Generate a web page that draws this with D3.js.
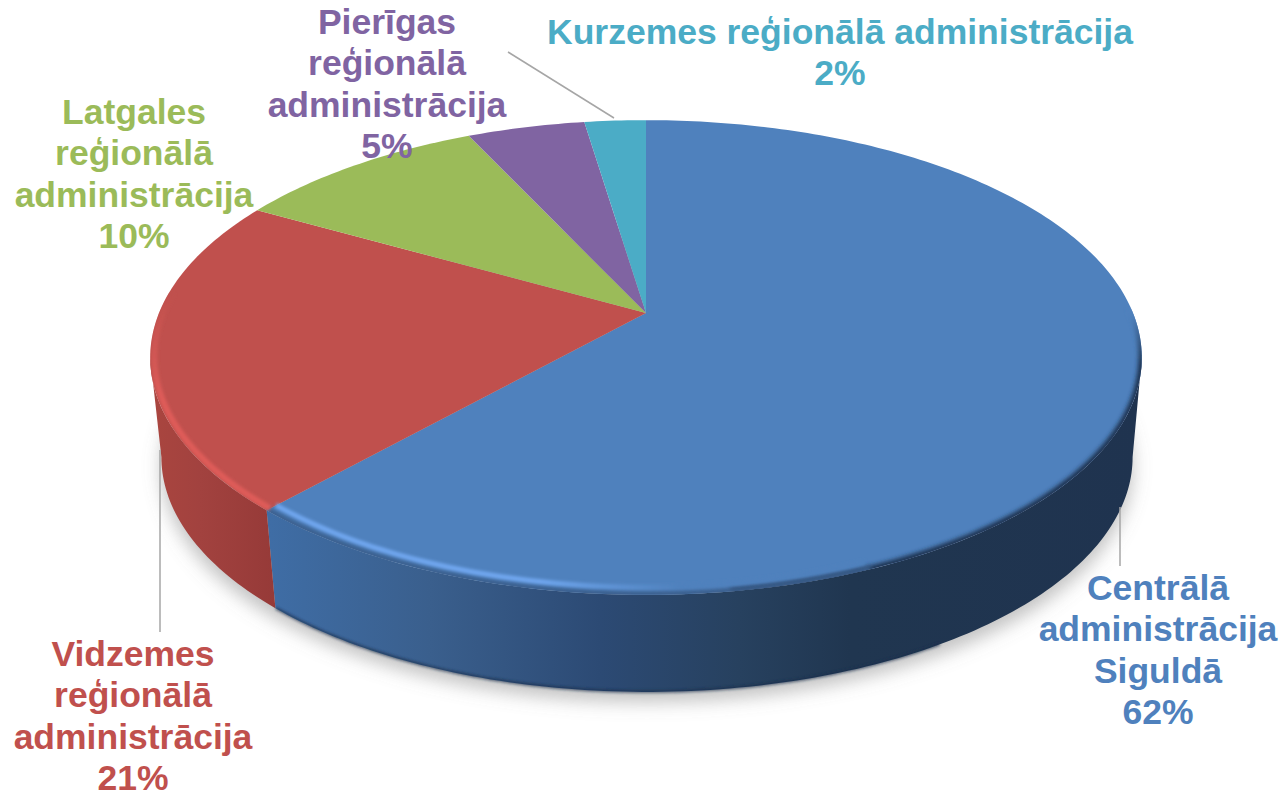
<!DOCTYPE html>
<html>
<head>
<meta charset="utf-8">
<script src="https://cdn.jsdelivr.net/npm/d3@7"></script>
<style>
  html, body { margin: 0; padding: 0; background: #fff; overflow: hidden; }
  svg { display: block; }
  text { font-family: "Liberation Sans", Arial, sans-serif; font-weight: bold; font-size: 35.5px; text-anchor: middle; }
</style>
</head>
<body>
<div id="chart"></div>
<script>
/* ===== Data ===== */
const regions = ["Centrālā", "Vidzemes", "Latgales", "Pierīgas", "Kurzemes"];
const shares = [61.7, 21.45, 9.85, 4.6, 2.4];
const labelLines = [
    ["Centrālā", "administrācija", "Siguldā"],
    ["Vidzemes", "reģionālā", "administrācija"],
    ["Latgales", "reģionālā", "administrācija"],
    ["Pierīgas", "reģionālā", "administrācija"],
    ["Kurzemes reģionālā administrācija"]
];
const sliceColors = ["#4F81BD", "#C0504D", "#9BBB59", "#8064A2", "#4BACC6"];

/* ===== Constants ===== */
const width = 1285;
const height = 793;
const tilt = 0.1875;   // perspective strength of the disc
const topDisc = {cx: 646, cy: 313, rx: 487, ry: 229};
const baseDisc = {cx: 647, cy: 413, rx: 477, ry: 226.6};
const wallFrom = Math.PI - Math.acos(tilt);   // where the disc silhouette is widest
const wallTo = Math.PI + Math.acos(tilt);
const labelSpots = [
    {x: 1158, y: 600}, {x: 133, y: 666}, {x: 134, y: 124}, {x: 387, y: 34}, {x: 840, y: 44}
];
const lineHeight = 41.3;
const leaders = [
    [[1120, 507], [1120, 566]],
    [[160, 450], [160, 632]],
    [[508, 52], [614, 118]]
];

// Point on a tilted disc, angle clockwise from the top, r as a part of the radius
function project(disc, angle, r = 1) {
    const u = r * Math.sin(angle);
    const v = -r * Math.cos(angle);
    const w = 1 - tilt * v;
    return [disc.cx + disc.rx * u / w, disc.cy + disc.ry * v / w];
}

function arcPoints(disc, a0, a1, r = 1) {
    const n = Math.max(2, Math.ceil(Math.abs(a1 - a0) * 60));
    return d3.range(n + 1).map(i => project(disc, a0 + (a1 - a0) * i / n, r));
}

const line = d3.line();
const slices = d3.pie().sort(null).value(d => d)(shares);

const svg = d3.select("#chart").append("svg")
    .attr("width", width)
    .attr("height", height);

/* ===== Gradients and filters ===== */
const defs = svg.append("defs");

function addGradient(id, stops) {
    defs.append("linearGradient")
        .attr("id", id)
        .attr("gradientUnits", "userSpaceOnUse")
        .attr("x1", 150).attr("x2", 1145).attr("y1", 0).attr("y2", 0)
        .selectAll("stop")
        .data(stops)
        .join("stop")
        .attr("offset", d => (d[0] - 150) / 995)
        .attr("stop-color", d => d[1]);
}

function addVerticalGradient(id, y1, y2, from, to) {
    const g = defs.append("linearGradient")
        .attr("id", id)
        .attr("gradientUnits", "userSpaceOnUse")
        .attr("x1", 0).attr("x2", 0).attr("y1", y1).attr("y2", y2);
    g.append("stop").attr("offset", 0).attr("stop-color", from);
    g.append("stop").attr("offset", 1).attr("stop-color", to);
}

addGradient("wallBlue", [[270, "#3F6DA5"], [430, "#3A5F8D"], [600, "#2C4A74"], [740, "#27415F"], [850, "#203650"], [1145, "#1F334F"]]);
addGradient("wallRed", [[155, "#A9453F"], [200, "#A2423F"], [275, "#963A38"]]);
addGradient("rimBlue", [[270, "#6FA6EE"], [540, "#6FA6EE"], [680, "#4F81BD"], [1145, "#4F81BD"]]);

// highlights and the dark edge fade out going up the sides
addVerticalGradient("rimRed", 295, 400, "#C0504D", "#DE5C59");
addVerticalGradient("edgeBlue", 315, 365, "#4F81BD", "#1F334F");

[["blurBig", 9], ["blurRim", 1.6], ["blurEdge", 2.2]].forEach(([id, dev]) => {
    defs.append("filter")
        .attr("id", id)
        .attr("x", "-10%").attr("y", "-10%").attr("width", "120%").attr("height", "120%")
        .append("feGaussianBlur")
        .attr("stdDeviation", dev);
});

defs.append("clipPath").attr("id", "topClip")
    .append("path")
    .attr("d", line(arcPoints(topDisc, 0, 2 * Math.PI)) + "Z");

/* ===== Shadow under the disc ===== */
svg.append("path")
    .attr("d", line(arcPoints(baseDisc, 0, 2 * Math.PI)) + "Z")
    .attr("transform", "translate(0,10)")
    .attr("fill", "#777")
    .attr("fill-opacity", 0.45)
    .attr("filter", "url(#blurBig)");

/* ===== Outer wall, front half only ===== */
const wallFills = ["url(#wallBlue)", "url(#wallRed)"];
slices.slice(0, 2).forEach((s, i) => {
    const a0 = Math.max(s.startAngle, wallFrom);
    const a1 = Math.min(s.endAngle, wallTo);
    const outline = arcPoints(topDisc, a0, a1).concat(arcPoints(baseDisc, a1, a0));
    svg.append("path")
        .attr("class", "wall")
        .attr("d", line(outline) + "Z")
        .attr("fill", wallFills[i]);
});

// Darker lip along the bottom of the wall
svg.append("path")
    .attr("d", line(arcPoints(baseDisc, 2.6, slices[0].endAngle, 0.999)))
    .attr("fill", "none")
    .attr("stroke", "#1A2E4C")
    .attr("stroke-width", 2)
    .attr("filter", "url(#blurRim)");

/* ===== Top faces ===== */
svg.append("g").selectAll("path")
    .data(slices)
    .join("path")
    .attr("d", s => line([project(topDisc, 0, 0), ...arcPoints(topDisc, s.startAngle, s.endAngle)]) + "Z")
    .attr("fill", (s, i) => sliceColors[i]);

/* ===== Bevel on the rim ===== */
const rim = svg.append("g").attr("clip-path", "url(#topClip)");

// dark soft edge where the blue face meets the shaded wall
rim.append("path")
    .attr("d", line(arcPoints(topDisc, 1.55, 3.0, 1.0)))
    .attr("fill", "none")
    .attr("stroke", "url(#edgeBlue)")
    .attr("stroke-width", 7)
    .attr("filter", "url(#blurEdge)");

rim.append("path")
    .attr("d", line(arcPoints(topDisc, 2.75, slices[0].endAngle, 0.999)))
    .attr("fill", "none")
    .attr("stroke", "#3A5F8D")
    .attr("stroke-width", 7)
    .attr("filter", "url(#blurEdge)");

rim.append("path")
    .attr("d", line(arcPoints(topDisc, 2.75, slices[0].endAngle, 0.978)))
    .attr("fill", "none")
    .attr("stroke", "url(#rimBlue)")
    .attr("stroke-width", 5)
    .attr("filter", "url(#blurRim)");

rim.append("path")
    .attr("d", line(arcPoints(topDisc, slices[1].startAngle, 4.8, 0.992)))
    .attr("fill", "none")
    .attr("stroke", "url(#rimRed)")
    .attr("stroke-width", 6)
    .attr("filter", "url(#blurRim)");

/* ===== Leader lines ===== */
svg.append("g").selectAll("path")
    .data(leaders)
    .join("path")
    .attr("d", d => line(d))
    .attr("fill", "none")
    .attr("stroke", "#A6A6A6")
    .attr("stroke-width", 1.5);

/* ===== Labels ===== */
const labels = svg.append("g").selectAll("text")
    .data(regions)
    .join("text")
    .attr("fill", (d, i) => sliceColors[i]);

labels.selectAll("tspan")
    .data((d, i) => labelLines[i].concat(`${Math.round(shares[i])}%`).map(t => ({t, spot: labelSpots[i]})))
    .join("tspan")
    .attr("x", d => d.spot.x)
    .attr("y", (d, j) => d.spot.y + j * lineHeight)
    .text(d => d.t);
</script>
</body>
</html>
